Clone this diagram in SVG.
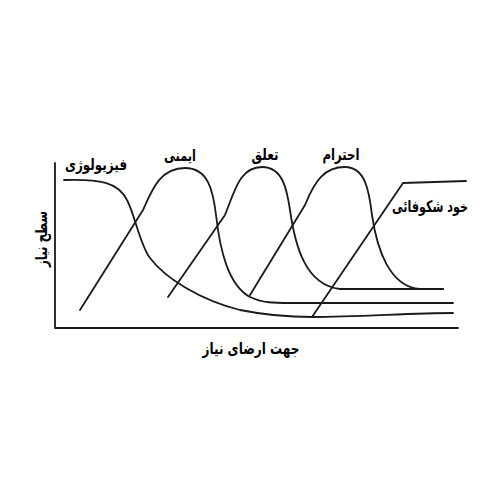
<svg xmlns="http://www.w3.org/2000/svg" width="500" height="500" viewBox="0 0 500 500">
<style>
.c{fill:none;stroke:#1a1a1a;stroke-width:1.8;stroke-linecap:round;stroke-linejoin:round}
.t{font-family:"DejaVu Sans","Noto Sans",sans-serif;font-weight:bold;font-size:16px;fill:#000;text-anchor:middle}
</style>
<rect width="500" height="500" fill="#fff"/>
<g id="axes">
<path class="c" d="M55,163 L55,328 L458,328" stroke-width="2"/>
</g>
<g id="connectors">
<path id="physiology-curve" class="c" d="M64,180 C100,179 118,182 127,200 C135,215 140,245 150,258 C165,278 200,300 240,310 C270,316 290,317 312,317 C360,317 410,313 453,313"/>
<path id="safety-curve" class="c" d="M80,310 L143,210 C152,190 160,168 185,168 C208,168 213,190 216,215 C220,250 228,285 250,297 C262,303 275,303 290,303 L453,303"/>
<path id="belonging-curve" class="c" d="M168,297 L225,215 C235,190 240,167 262,167 C283,167 287,190 290,210 C295,245 305,285 340,289 L443,289"/>
<path id="esteem-curve" class="c" d="M250,295 L305,205 C315,180 325,167 345,167 C365,167 369,190 372,215 C377,250 390,287 420,289 L443,289"/>
<path id="actualization-curve" class="c" d="M312,317 L403,183 L466,181" stroke-width="2.2"/>
</g>
<g id="physiology"><text class="t" x="96" y="170" textLength="62" lengthAdjust="spacingAndGlyphs">فیزیولوژی</text></g>
<g id="safety"><text class="t" x="180" y="161" textLength="32" lengthAdjust="spacingAndGlyphs">ایمنی</text></g>
<g id="belonging"><text class="t" x="265" y="160" textLength="27" lengthAdjust="spacingAndGlyphs">تعلق</text></g>
<g id="esteem"><text class="t" x="341" y="160" textLength="37" lengthAdjust="spacingAndGlyphs">احترام</text></g>
<g id="actualization"><text class="t" x="430" y="212" textLength="76" lengthAdjust="spacingAndGlyphs">خود شکوفائی</text></g>
<g id="x-label"><text class="t" x="251" y="354" textLength="97" lengthAdjust="spacingAndGlyphs">جهت ارضای نیاز</text></g>
<g id="y-label"><text class="t" transform="translate(47,239) rotate(-90)" textLength="56" lengthAdjust="spacingAndGlyphs">سطح نیاز</text></g>
</svg>
